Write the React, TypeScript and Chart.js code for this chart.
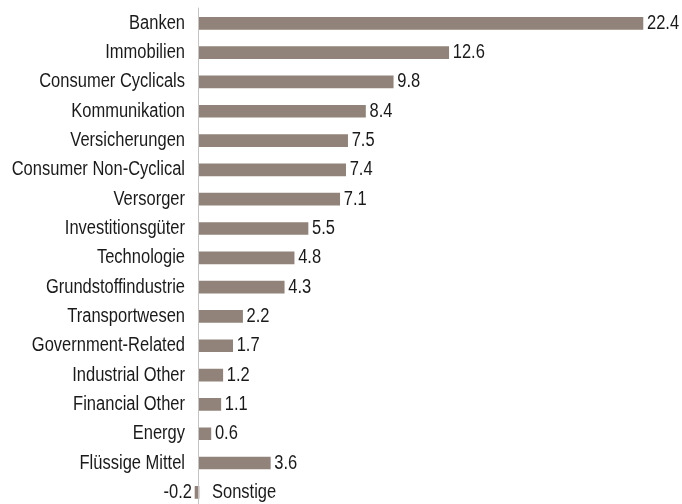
import React, { useEffect, useRef } from "react";
import { Chart, registerables } from "chart.js";

Chart.register(...registerables);

const categories = [
  "Banken",
  "Immobilien",
  "Consumer Cyclicals",
  "Kommunikation",
  "Versicherungen",
  "Consumer Non-Cyclical",
  "Versorger",
  "Investitionsgüter",
  "Technologie",
  "Grundstoffindustrie",
  "Transportwesen",
  "Government-Related",
  "Industrial Other",
  "Financial Other",
  "Energy",
  "Flüssige Mittel",
  "Sonstige",
];

const values = [22.4, 12.6, 9.8, 8.4, 7.5, 7.4, 7.1, 5.5, 4.8, 4.3, 2.2, 1.7, 1.2, 1.1, 0.6, 3.6, -0.2];

const valueLabels = ["22.4", "12.6", "9.8", "8.4", "7.5", "7.4", "7.1", "5.5", "4.8", "4.3", "2.2", "1.7", "1.2", "1.1", "0.6", "3.6", "-0.2"];

const FONT = '20px "Liberation Sans", Arial, sans-serif';
const SQUEEZE = 0.825;
const TEXT_COLOR = "#1a1a1a";
const BAR_COLOR = "#918379";
const AXIS_COLOR = "#c4c4c4";

function drawText(ctx: CanvasRenderingContext2D, text: string, x: number, y: number, align: CanvasTextAlign) {
  ctx.save();
  ctx.translate(x, y);
  ctx.scale(SQUEEZE, 1);
  ctx.textAlign = align;
  ctx.fillText(text, 0, 0);
  ctx.restore();
}

const labelPlugin = {
  id: "customLabels",
  afterDatasetsDraw(chart: any) {
    const ctx = chart.ctx;
    const xScale = chart.scales.x;
    const area = chart.chartArea;
    const zeroX = xScale.getPixelForValue(0);
    ctx.save();
    ctx.strokeStyle = AXIS_COLOR;
    ctx.lineWidth = 1;
    ctx.beginPath();
    ctx.moveTo(Math.round(zeroX) - 0.5, area.top - 1);
    ctx.lineTo(Math.round(zeroX) - 0.5, area.bottom);
    ctx.stroke();

    ctx.font = FONT;
    ctx.fillStyle = TEXT_COLOR;
    ctx.textBaseline = "middle";
    const meta = chart.getDatasetMeta(0);
    meta.data.forEach((bar: any, i: number) => {
      const y = bar.y;
      const v = values[i];
      if (v >= 0) {
        drawText(ctx, categories[i], zeroX - 14, y, "right");
        drawText(ctx, valueLabels[i], bar.x + 4, y, "left");
      } else {
        drawText(ctx, categories[i], zeroX + 13, y, "left");
        drawText(ctx, valueLabels[i], bar.x - 3, y, "right");
      }
    });
    ctx.restore();
  },
};

export default function App() {
  const ref = useRef<HTMLCanvasElement>(null);
  useEffect(() => {
    if (!ref.current) return;
    const chart = new Chart(ref.current, {
      type: "bar",
      data: {
        labels: categories,
        datasets: [
          {
            data: values,
            backgroundColor: BAR_COLOR,
            borderWidth: 0,
            barThickness: 12,
          },
        ],
      },
      options: {
        indexAxis: "y",
        animation: false,
        responsive: false,
        maintainAspectRatio: false,
        layout: { padding: { top: 8.65, left: 0, right: 0, bottom: 0 } },
        plugins: {
          legend: { display: false },
          tooltip: { enabled: false },
        },
        scales: {
          x: { display: false, min: -10.04, max: 24.37 },
          y: { display: false },
        },
      },
      plugins: [labelPlugin],
    });
    return () => chart.destroy();
  }, []);
  return (
    <div
      style={{
        position: "fixed",
        top: 0,
        left: 0,
        width: 682,
        height: 504,
        overflow: "hidden",
        background: "#ffffff",
      }}
    >
      <canvas ref={ref} width={682} height={507} style={{ display: "block" }} />
    </div>
  );
}
